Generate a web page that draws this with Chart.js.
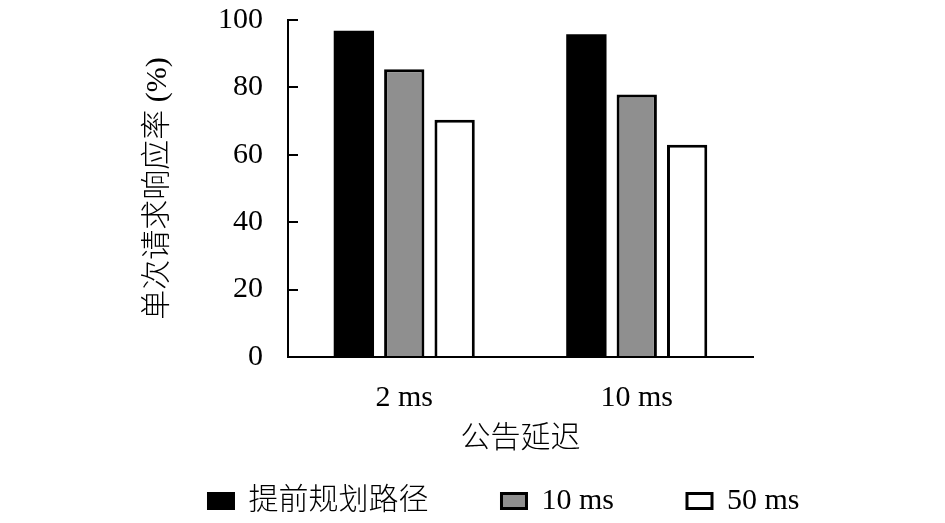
<!DOCTYPE html>
<html>
<head>
<meta charset="utf-8">
<script src="https://cdn.jsdelivr.net/npm/chart.js@4"></script>
<style>
html,body{margin:0;padding:0;background:#fff;}
#wrap{width:945px;height:523px;}
</style>
</head>
<body>
<div id="wrap"><canvas id="c" width="945" height="523"></canvas></div>
<script>
const categories = ['2 ms', '10 ms'];
const seriesNames = ['提前规划路径', '10 ms', '50 ms'];
const planned = [96.8, 95.8];
const delay10 = [85.4, 77.9];
const delay50 = [70.4, 63.0];
const yTicks = [0, 20, 40, 60, 80, 100];
const xTitle = '公告延迟';
const yTitle = '单次请求响应率 (%)';

const FAM = "'Liberation Serif', 'Noto Sans CJK SC', serif";
const font = {family: FAM, size: 30, weight: 300};

const LEGEND_H = 66;
const LEGEND_SHIFT = 44;

const legendFix = {
  id: 'legendFix',
  beforeUpdate(chart) {
    const lg = chart.legend;
    if (lg && !lg._patched) {
      const f = lg.fit;
      lg.fit = function () { f.apply(this, arguments); this.height = LEGEND_H; };
      lg._patched = true;
    }
  },
  afterLayout(chart) {
    const lg = chart.legend;
    if (lg) { lg.top -= LEGEND_SHIFT; }
  }
};

new Chart(document.getElementById('c'), {
  type: 'bar',
  data: {
    labels: categories,
    datasets: [
      {label: seriesNames[0], data: planned, backgroundColor: '#000000', borderColor: '#000000', borderWidth: 0},
      {label: seriesNames[1], data: delay10, backgroundColor: '#8f8f8f', borderColor: '#000000', borderWidth: 3},
      {label: seriesNames[2], data: delay50, backgroundColor: '#ffffff', borderColor: '#000000', borderWidth: 3}
    ]
  },
  plugins: [legendFix],
  options: {
    responsive: false,
    animation: false,
    devicePixelRatio: 1,
    layout: {padding: {left: 63, right: 0, top: 0, bottom: 0}},
    datasets: {bar: {categoryPercentage: 0.65, barPercentage: 0.8}},
    plugins: {
      tooltip: {enabled: false},
      legend: {
        position: 'bottom',
        labels: {
          font: font, color: '#000', boxWidth: 25, boxHeight: 15, padding: 73,
          generateLabels: (chart) => chart.data.datasets.map((d, i) => ({
            text: d.label, fillStyle: d.backgroundColor, strokeStyle: '#000', lineWidth: 3,
            fontColor: '#000', datasetIndex: i, hidden: false
          }))
        }
      }
    },
    scales: {
      x: {
        grid: {display: false, drawTicks: false},
        border: {display: true, color: '#000', width: 2},
        ticks: {font: font, color: '#000', padding: 23},
        title: {display: true, text: xTitle, font: font, color: '#000', padding: {top: 0, bottom: 0}},
        afterFit: (s) => { s.height = 100; }
      },
      y: {
        min: 0, max: 100,
        afterBuildTicks: (s) => { s.ticks = yTicks.map(v => ({value: v})); },
        grid: {drawOnChartArea: false, drawTicks: true, tickLength: -10, color: '#000', lineWidth: 2},
        border: {display: true, color: '#000', width: 2},
        ticks: {font: font, color: '#000', padding: 35},
        title: {display: true, text: yTitle, font: font, color: '#000', padding: {top: 77, bottom: 0}},
        afterFit: (s) => { s.width = 225; s.paddingTop = 20; s.paddingBottom = 0; }
      },
      yr: {
        position: 'right', display: true,
        grid: {display: false}, border: {display: false}, ticks: {display: false},
        afterFit: (s) => { s.width = 192; s.paddingTop = 0; s.paddingBottom = 0; }
      }
    }
  }
});
</script>
</body>
</html>
